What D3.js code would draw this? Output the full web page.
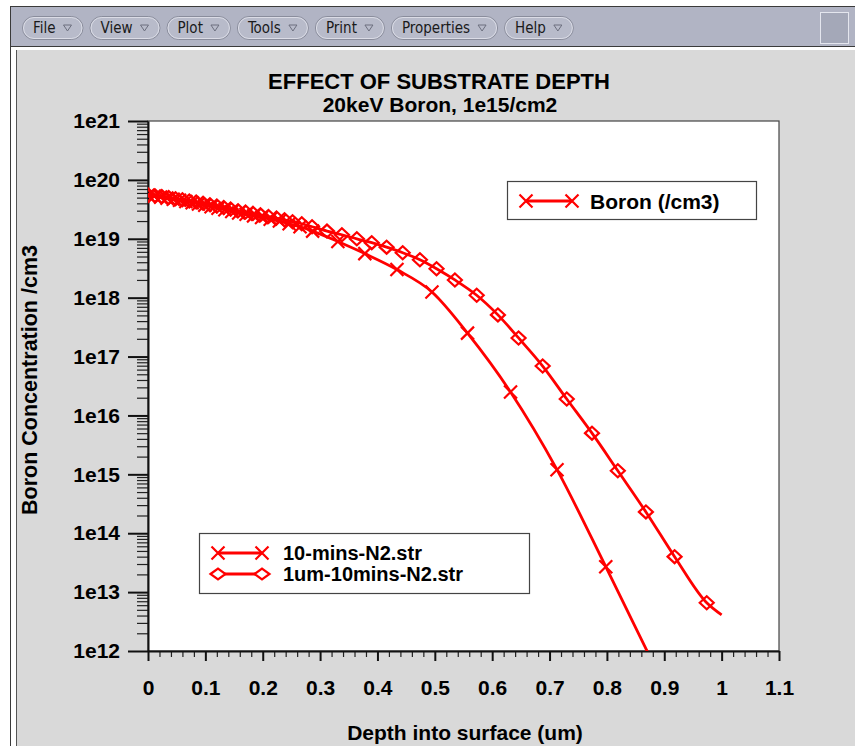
<!DOCTYPE html>
<html>
<head>
<meta charset="utf-8">
<script src="https://cdn.jsdelivr.net/npm/d3@7"></script>
<style>
  html, body { margin: 0; padding: 0; background: #ffffff; }
  svg { display: block; }
  .bold { font-family: "Liberation Sans", Arial, Helvetica, sans-serif; font-weight: bold; }
</style>
</head>
<body>
<svg id="chart" width="855" height="746"></svg>
<script>
// ---- Boron profiles: depth (um) and concentration (/cm3) ----
const depth10mins = [0.000, 0.011, 0.022, 0.033, 0.044, 0.055, 0.066, 0.077, 0.088, 0.099,
  0.110, 0.122, 0.134, 0.146, 0.158, 0.171, 0.184, 0.198, 0.213, 0.229, 0.246, 0.265,
  0.287, 0.331, 0.378, 0.434, 0.495, 0.557, 0.632, 0.713, 0.798, 0.890];
const conc10mins = [5.5e19, 5.3e19, 5.1e19, 4.9e19, 4.7e19, 4.5e19, 4.3e19, 4.1e19, 3.9e19, 3.7e19,
  3.5e19, 3.3e19, 3.1e19, 2.9e19, 2.75e19, 2.6e19, 2.45e19, 2.3e19, 2.15e19, 2.0e19, 1.8e19, 1.6e19,
  1.35e19, 9.0e18, 5.6e18, 3.0e18, 1.25e18, 2.5e17, 2.5e16, 1.2e15, 2.7e13, 4.0e11];

const depth1um = [0.000, 0.012, 0.024, 0.036, 0.048, 0.060, 0.072, 0.084, 0.096, 0.108,
  0.120, 0.132, 0.144, 0.157, 0.170, 0.183, 0.196, 0.210, 0.224, 0.238, 0.252, 0.268,
  0.286, 0.312, 0.338, 0.364, 0.390, 0.416, 0.444, 0.474, 0.503, 0.535, 0.573, 0.610,
  0.646, 0.688, 0.730, 0.774, 0.819, 0.868, 0.918, 0.974, 1.000];
const conc1um = [5.6e19, 5.4e19, 5.2e19, 5.0e19, 4.8e19, 4.6e19, 4.4e19, 4.2e19, 4.0e19, 3.8e19,
  3.6e19, 3.4e19, 3.2e19, 3.0e19, 2.85e19, 2.7e19, 2.55e19, 2.4e19, 2.25e19, 2.1e19, 1.95e19, 1.8e19,
  1.6e19, 1.35e19, 1.17e19, 1.0e19, 8.6e18, 7.2e18, 5.8e18, 4.4e18, 3.1e18, 2.0e18, 1.1e18, 5.1e17,
  2.07e17, 6.9e16, 1.9e16, 5.0e15, 1.15e15, 2.3e14, 4.0e13, 6.6e12, 4.1e12];

const seriesNames = ["10-mins-N2.str", "1um-10mins-N2.str"];
const quantityName = "Boron (/cm3)";

const xTicks = [0, 0.1, 0.2, 0.3, 0.4, 0.5, 0.6, 0.7, 0.8, 0.9, 1, 1.1];
const xTickLabels = ["0", "0.1", "0.2", "0.3", "0.4", "0.5", "0.6", "0.7", "0.8", "0.9", "1", "1.1"];
const yTicks = [1e12, 1e13, 1e14, 1e15, 1e16, 1e17, 1e18, 1e19, 1e20, 1e21];
const yTickLabels = ["1e12", "1e13", "1e14", "1e15", "1e16", "1e17", "1e18", "1e19", "1e20", "1e21"];

const titleText = "EFFECT OF SUBSTRATE DEPTH";
const subtitleText = "20keV Boron, 1e15/cm2";
const xLabel = "Depth into surface (um)";
const yLabel = "Boron Concentration /cm3";
const menuItems = ["File", "View", "Plot", "Tools", "Print", "Properties", "Help"];

// ---- layout ----
const W = 855, H = 746;
const plot = { left: 148, right: 779, top: 121, bottom: 651 };
const RED = "#ff0000";
const FONT = '"Liberation Sans", Arial, Helvetica, sans-serif';

const svg = d3.select("#chart");

// ---- window frame and menu bar ----
svg.append("rect").attr("x", 0).attr("y", 0).attr("width", W).attr("height", H).attr("fill", "#ffffff");
svg.append("rect").attr("x", 10).attr("y", 6).attr("width", W - 10).attr("height", 40)
  .attr("fill", "#b1b4c4");
svg.append("line").attr("x1", 10).attr("x2", W).attr("y1", 6.5).attr("y2", 6.5).attr("stroke", "#3a3a3a");
svg.append("line").attr("x1", 10.5).attr("x2", 10.5).attr("y1", 6).attr("y2", H).attr("stroke", "#3a3a3a");
svg.append("line").attr("x1", 10).attr("x2", W).attr("y1", 46.5).attr("y2", 46.5).attr("stroke", "#3a3a3a");
svg.append("rect").attr("x", 17).attr("y", 50).attr("width", W - 17).attr("height", H - 50)
  .attr("fill", "#d9d9d9");
svg.append("line").attr("x1", 16.5).attr("x2", 16.5).attr("y1", 50).attr("y2", H).attr("stroke", "#555");

// right-hand square in the menu bar
svg.append("rect").attr("x", 820.5).attr("y", 12.5).attr("width", 28).attr("height", 31)
  .attr("fill", "#a4a8b8").attr("stroke", "#e4e6ee");

const menu = svg.append("g").attr("font-family", '"DejaVu Sans Condensed", "DejaVu Sans", sans-serif')
  .attr("font-size", 15).attr("fill", "#1a1a1a");
let bx = 22;
menuItems.forEach(name => {
  const g = menu.append("g");
  const t = g.append("text").attr("x", bx + 11).attr("y", 33).text(name);
  const tw = t.node().getComputedTextLength();
  const bw = tw + 38;
  g.insert("rect", "text").attr("x", bx + 0.5).attr("y", 16.5).attr("width", bw).attr("height", 23)
    .attr("rx", 11.5).attr("fill", "#b8bbca").attr("stroke", "#8a8d9c");
  g.insert("rect", "text").attr("x", bx + 1.5).attr("y", 17.5).attr("width", bw - 2).attr("height", 21)
    .attr("rx", 10.5).attr("fill", "none").attr("stroke", "#e3e5ee").attr("stroke-width", 0.8);
  const tx = bx + 11 + tw + 8;
  g.append("path").attr("d", `M${tx},25 L${tx + 8},25 L${tx + 4},31 Z`)
    .attr("fill", "none").attr("stroke", "#6c6f7e").attr("stroke-width", 1);
  bx += bw + 7;
});

// ---- scales ----
const x = d3.scaleLinear().domain([0, 1.1]).range([plot.left, plot.right]);
const y = d3.scaleLog().domain([1e12, 1e21]).range([plot.bottom, plot.top]);

// plot background
svg.append("rect").attr("x", plot.left).attr("y", plot.top)
  .attr("width", plot.right - plot.left).attr("height", plot.bottom - plot.top)
  .attr("fill", "#ffffff").attr("stroke", "#444").attr("stroke-width", 1.2);

// ---- title ----
svg.append("text").attr("class", "bold").attr("x", 439).attr("y", 89).attr("text-anchor", "middle")
  .attr("font-size", 22).text(titleText);
svg.append("text").attr("class", "bold").attr("x", 440).attr("y", 112).attr("text-anchor", "middle")
  .attr("font-size", 21).text(subtitleText);

// ---- axes ----
const yMinor = [];
yTicks.slice(0, -1).forEach(d => { for (let k = 2; k <= 9; k++) yMinor.push(d * k); });

svg.append("g").attr("transform", `translate(${plot.left},0)`)
  .call(d3.axisLeft(y).tickValues(yMinor).tickSize(11).tickSizeOuter(0).tickFormat(""))
  .call(g => g.select(".domain").remove())
  .call(g => g.selectAll("line").attr("stroke", "#222").attr("stroke-width", 1.2));

svg.append("g").attr("transform", `translate(${plot.left},0)`)
  .call(d3.axisLeft(y).tickValues(yTicks).tickSize(20).tickSizeOuter(0).tickPadding(8)
    .tickFormat((d, i) => yTickLabels[i]))
  .call(g => g.select(".domain").attr("stroke", "#111").attr("stroke-width", 2))
  .call(g => g.selectAll("line").attr("stroke", "#111").attr("stroke-width", 2))
  .call(g => g.selectAll("text").attr("font-family", FONT).attr("font-weight", "bold")
    .attr("font-size", 21).attr("fill", "#000"));

const xMinor = d3.range(0, 56).map(i => i * 0.02).filter(v => Math.abs(v * 10 - Math.round(v * 10)) > 1e-6 && v < 1.1);
svg.append("g").attr("transform", `translate(0,${plot.bottom})`)
  .call(d3.axisBottom(x).tickValues(xMinor).tickSize(6).tickSizeOuter(0).tickFormat(""))
  .call(g => g.select(".domain").remove())
  .call(g => g.selectAll("line").attr("stroke", "#222").attr("stroke-width", 1.2));

svg.append("g").attr("transform", `translate(0,${plot.bottom})`)
  .call(d3.axisBottom(x).tickValues(xTicks).tickSize(10).tickSizeOuter(0).tickPadding(19)
    .tickFormat((d, i) => xTickLabels[i]))
  .call(g => g.select(".domain").attr("stroke", "#111").attr("stroke-width", 2))
  .call(g => g.selectAll("line").attr("stroke", "#111").attr("stroke-width", 2))
  .call(g => g.selectAll("text").attr("font-family", FONT).attr("font-weight", "bold")
    .attr("font-size", 21).attr("fill", "#000"));

// axis titles
svg.append("text").attr("class", "bold").attr("x", 465).attr("y", 740).attr("text-anchor", "middle")
  .attr("font-size", 21).text(xLabel);
svg.append("text").attr("class", "bold").attr("transform", "translate(37,380) rotate(-90)")
  .attr("text-anchor", "middle").attr("font-size", 21.5).text(yLabel);

// ---- curves ----
svg.append("clipPath").attr("id", "plotClip").append("rect")
  .attr("x", plot.left).attr("y", plot.top)
  .attr("width", plot.right - plot.left).attr("height", plot.bottom - plot.top);
const layer = svg.append("g").attr("clip-path", "url(#plotClip)");

const line = d3.line().x(d => x(d[0])).y(d => y(d[1])).curve(d3.curveMonotoneX);

function crossPath(cx, cy, r) {
  return `M${cx - r},${cy - r}L${cx + r},${cy + r}M${cx - r},${cy + r}L${cx + r},${cy - r}`;
}
function diamondPath(cx, cy, rx, ry) {
  return `M${cx - rx},${cy}L${cx},${cy - ry}L${cx + rx},${cy}L${cx},${cy + ry}Z`;
}

const profiles = [
  { depth: depth10mins, conc: conc10mins, marker: "cross" },
  { depth: depth1um, conc: conc1um, marker: "diamond" }
];

profiles.forEach(p => {
  const pts = p.depth.map((d, i) => [d, p.conc[i]]);
  layer.append("path").datum(pts).attr("d", line)
    .attr("fill", "none").attr("stroke", RED).attr("stroke-width", 2.8)
    .attr("stroke-linejoin", "round");
  // a symbol at every sample except the closing end point
  layer.selectAll(null).data(pts.slice(0, -1)).join("path")
    .attr("d", d => p.marker === "cross"
      ? crossPath(x(d[0]), y(d[1]), 6.5)
      : diamondPath(x(d[0]), y(d[1]), 7, 6.5))
    .attr("fill", "none").attr("stroke", RED).attr("stroke-width", 2.2);
});

// ---- legends ----
function legendSample(g, x0, x1, yy, marker) {
  g.append("line").attr("x1", x0).attr("x2", x1).attr("y1", yy).attr("y2", yy)
    .attr("stroke", RED).attr("stroke-width", 2.8);
  [x0, x1].forEach(cx => {
    g.append("path").attr("d", marker === "cross" ? crossPath(cx, yy, 6.5) : diamondPath(cx, yy, 7.5, 5.5))
      .attr("fill", marker === "cross" ? "none" : "#ffffff").attr("stroke", RED).attr("stroke-width", 2.2);
  });
}

const leg1 = svg.append("g");
leg1.append("rect").attr("x", 507.5).attr("y", 181.5).attr("width", 249).attr("height", 38)
  .attr("fill", "#ffffff").attr("stroke", "#444").attr("stroke-width", 1.2);
legendSample(leg1, 526, 572, 201, "cross");
leg1.append("text").attr("class", "bold").attr("x", 590).attr("y", 209).attr("font-size", 21).text(quantityName);

const leg2 = svg.append("g");
leg2.append("rect").attr("x", 199.5).attr("y", 533.5).attr("width", 330).attr("height", 60)
  .attr("fill", "#ffffff").attr("stroke", "#444").attr("stroke-width", 1.2);
legendSample(leg2, 218, 262, 553, "cross");
legendSample(leg2, 218, 262, 574, "diamond");
leg2.append("text").attr("class", "bold").attr("x", 283).attr("y", 560).attr("font-size", 20).text(seriesNames[0]);
leg2.append("text").attr("class", "bold").attr("x", 283).attr("y", 581).attr("font-size", 20).text(seriesNames[1]);
</script>
</body>
</html>
